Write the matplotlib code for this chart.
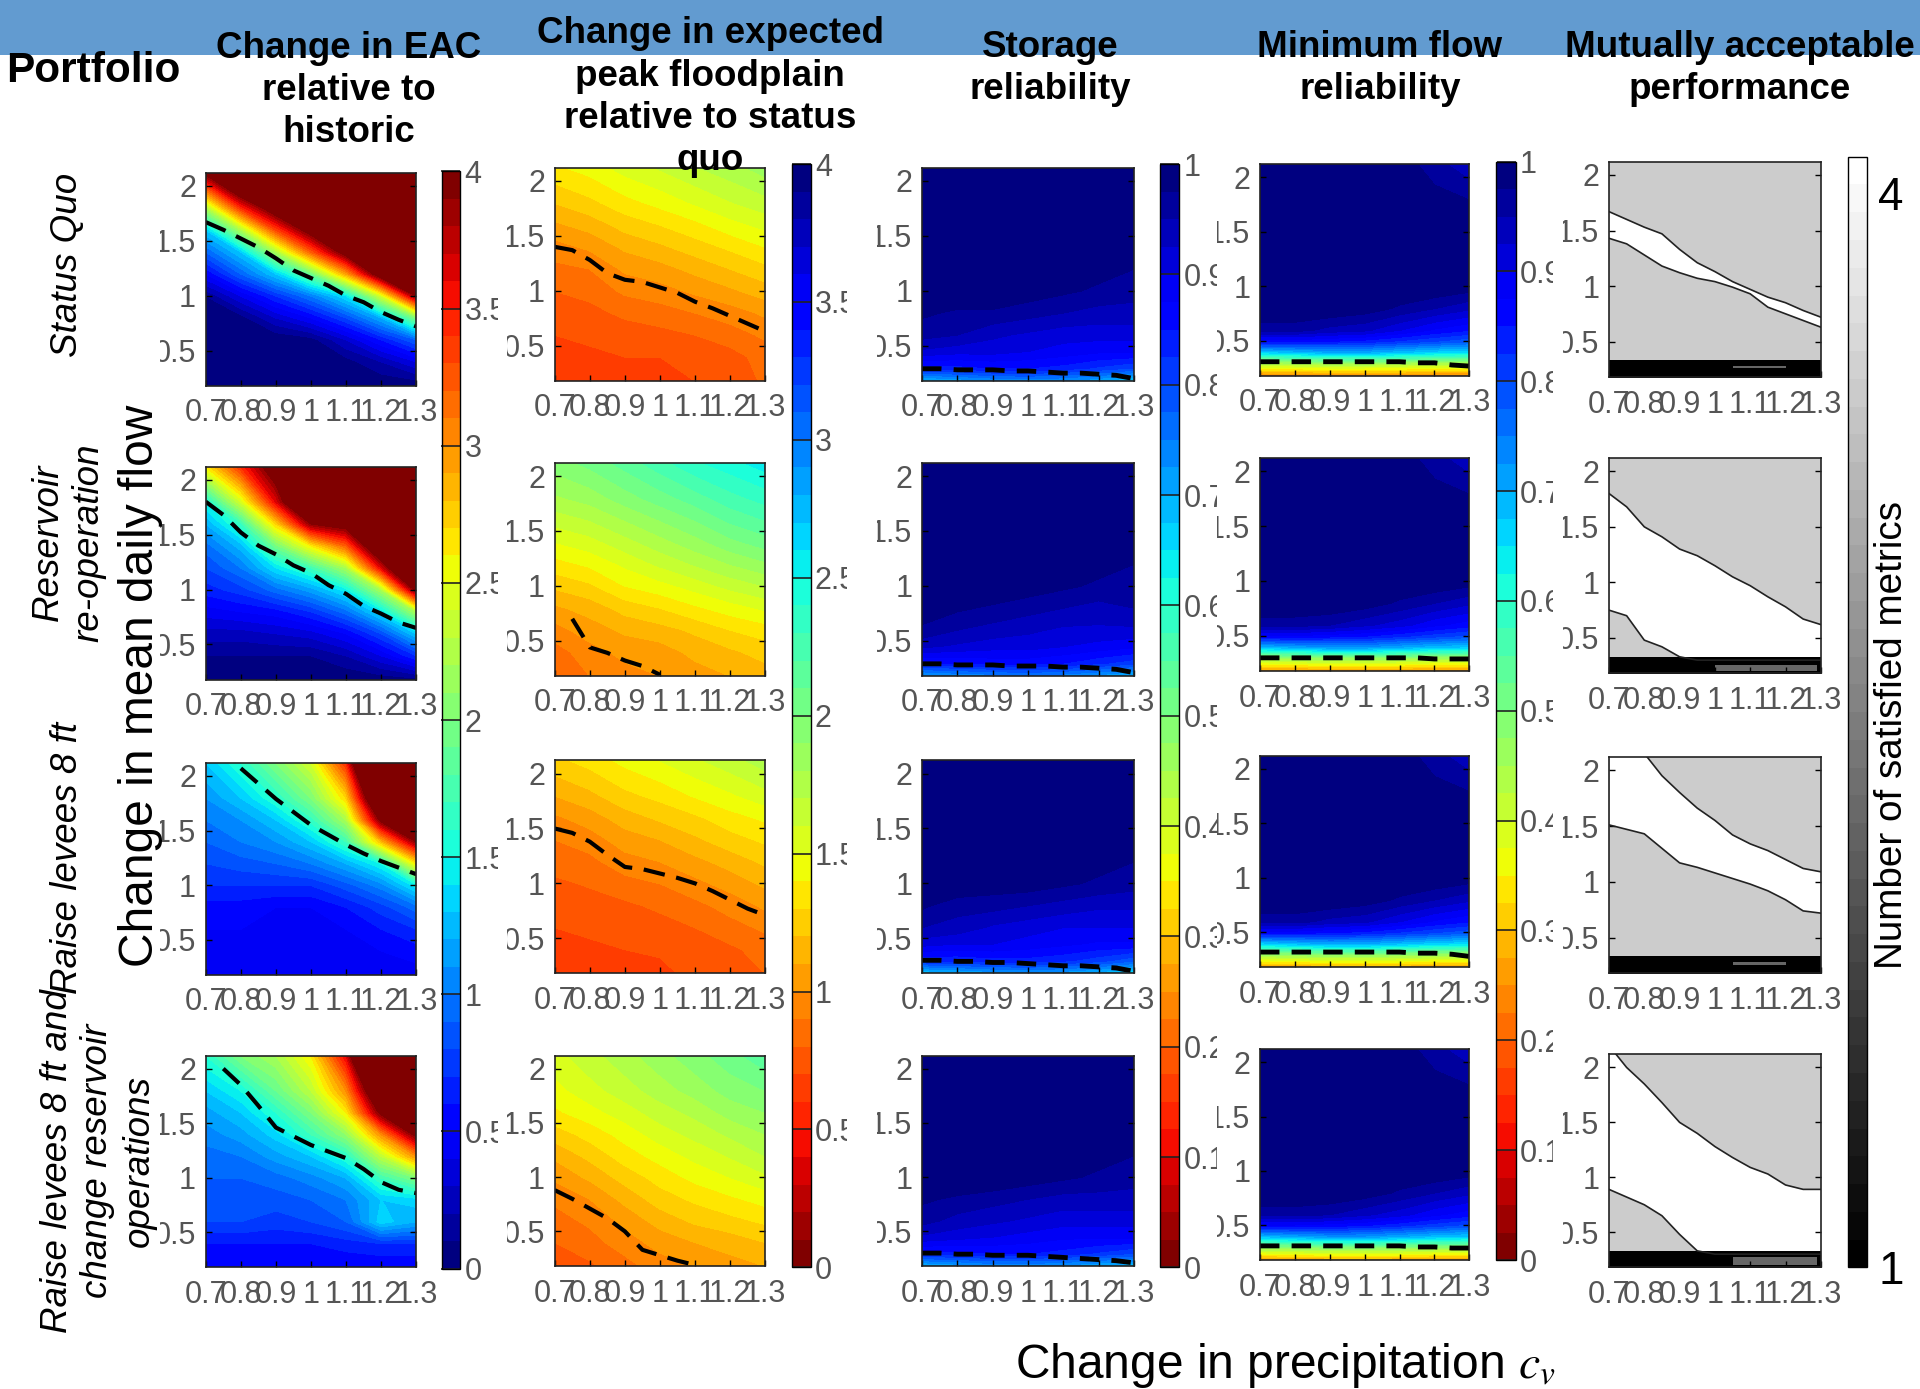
import numpy as np
from matplotlib import pyplot as plt
from matplotlib.cm import ScalarMappable
from matplotlib.colors import Normalize
from matplotlib.patches import Rectangle
from matplotlib.transforms import Bbox

plt.rcParams['font.family'] = ['Liberation Sans', 'DejaVu Sans']
plt.rcParams['mathtext.fontset'] = 'stix'

cv = [0.7, 0.8, 0.9, 1.0, 1.1, 1.2, 1.3]
cv_fine = [0.7, 0.75, 0.8, 0.85, 0.9, 0.95, 1.0, 1.05, 1.1, 1.15, 1.2, 1.25, 1.3]
flow_a = [0.18, 0.4, 0.6, 0.8, 1.0, 1.2, 1.4, 1.6, 1.8, 2.12]
flow_b = [0.18, 0.3, 0.45, 0.6, 0.8, 1.0, 1.4, 2.12]
flow_c = [0.18, 0.3, 0.4, 0.5, 0.6, 0.8, 1.0, 1.6, 2.12]
nan = float('nan')

# change in EAC
eac_1 = [[0, 0, 0, 0, 0, 0, 0],
         [0, 0, 0, 0, 0.05, 0.2, 0.4],
         [0, 0, 0, 0.05, 0.3, 0.6, 0.9],
         [0, 0.05, 0.3, 0.5, 0.8, 1.2, 2.0],
         [0.1, 0.4, 0.7, 1.0, 1.4, 2.4, 3.9],
         [0.5, 0.9, 1.3, 1.9, 2.9, 4.2, 5],
         [0.9, 1.3, 2.2, 3.2, 4.1, 5, 6],
         [1.3, 2.2, 3.3, 4.1, 5, 6, 7],
         [2.2, 3.4, 4.2, 5, 6, 7, 8],
         [4, 5, 6, 7, 8, 9, 10]]
eac_2 = [[0, 0, 0, 0, 0, 0.02, 0.05],
         [0.1, 0.1, 0.1, 0.1, 0.2, 0.4, 0.7],
         [0.25, 0.25, 0.3, 0.35, 0.5, 0.8, 1.3],
         [0.45, 0.5, 0.55, 0.7, 0.95, 1.4, 2.2],
         [0.65, 0.75, 0.95, 1.15, 1.45, 2.2, 4],
         [0.8, 1.0, 1.4, 1.7, 2.2, 3.6, 5],
         [0.95, 1.25, 1.95, 2.6, 3.2, 4.5, 6],
         [1.2, 1.65, 2.7, 3.9, 4.1, 5.5, 7],
         [1.5, 2.4, 3.6, 5, 5.5, 7, 8],
         [2.6, 3.4, 4.2, 6, 7, 8, 9]]
eac_3 = [[0.45, 0.45, 0.45, 0.45, 0.45, 0.45, 0.45],
         [0.45, 0.45, 0.45, 0.45, 0.45, 0.5, 0.55],
         [0.5, 0.5, 0.5, 0.5, 0.5, 0.6, 0.7],
         [0.55, 0.55, 0.5, 0.5, 0.6, 0.75, 0.95],
         [0.7, 0.7, 0.7, 0.7, 0.85, 1.05, 1.45],
         [0.8, 0.85, 0.9, 1.0, 1.2, 1.5, 2.6],
         [0.9, 1.0, 1.1, 1.3, 1.7, 2.8, 3.9],
         [1.0, 1.1, 1.3, 1.65, 2.2, 4, 5.5],
         [1.1, 1.3, 1.6, 2.0, 2.7, 4.8, 6],
         [1.3, 1.6, 2.0, 2.4, 3.4, 6, 7]]
eac_4 = [[0.5, 0.5, 0.5, 0.5, 0.5, 0.5, 0.5],
         [0.6, 0.6, 0.6, 0.6, 0.65, 0.7, 0.7],
         [0.8, 0.8, 0.75, 0.8, 0.9, 1.35, 1.2],
         [0.85, 0.85, 0.85, 0.9, 1.0, 1.3, 1.35],
         [0.9, 0.9, 0.95, 1.05, 1.2, 1.7, 2.0],
         [0.95, 1.0, 1.15, 1.3, 1.6, 2.3, 3.0],
         [1.05, 1.15, 1.35, 1.7, 2.1, 3.0, 4],
         [1.15, 1.3, 1.6, 2.0, 2.6, 4, 5],
         [1.3, 1.5, 1.9, 2.3, 3.0, 4.6, 6],
         [1.6, 2.0, 2.2, 2.6, 3.6, 6, 7]]

# change in expected peak floodplain
peak_1 = [[0.64, 0.64, 0.67, 0.67, 0.70, 0.72, 0.82],
          [0.66, 0.68, 0.70, 0.70, 0.72, 0.76, 0.84],
          [0.70, 0.72, 0.75, 0.77, 0.80, 0.85, 0.92],
          [0.74, 0.77, 0.82, 0.85, 0.90, 0.95, 1.02],
          [0.80, 0.83, 0.92, 0.96, 1.02, 1.08, 1.15],
          [0.87, 0.90, 1.02, 1.06, 1.13, 1.2, 1.27],
          [0.96, 1.02, 1.12, 1.18, 1.25, 1.32, 1.4],
          [1.08, 1.14, 1.24, 1.3, 1.37, 1.46, 1.53],
          [1.2, 1.27, 1.36, 1.43, 1.51, 1.59, 1.66],
          [1.38, 1.44, 1.54, 1.61, 1.69, 1.76, 1.84]]
peak_2 = [[0.8, 0.9, 0.96, 1.0, 1.05, 1.1, 1.15],
          [0.85, 0.96, 1.03, 1.05, 1.13, 1.18, 1.24],
          [0.96, 1.05, 1.12, 1.16, 1.22, 1.3, 1.35],
          [1.08, 1.14, 1.24, 1.3, 1.38, 1.45, 1.52],
          [1.22, 1.28, 1.4, 1.46, 1.54, 1.63, 1.7],
          [1.36, 1.42, 1.52, 1.62, 1.71, 1.8, 1.88],
          [1.5, 1.56, 1.66, 1.76, 1.86, 1.97, 2.05],
          [1.64, 1.7, 1.8, 1.9, 2.0, 2.12, 2.2],
          [1.78, 1.84, 1.95, 2.05, 2.15, 2.26, 2.34],
          [1.95, 2.03, 2.14, 2.26, 2.38, 2.46, 2.55]]
peak_3 = [[0.62, 0.64, 0.66, 0.68, 0.72, 0.74, 0.80],
          [0.66, 0.68, 0.70, 0.71, 0.75, 0.78, 0.84],
          [0.70, 0.72, 0.74, 0.76, 0.80, 0.86, 0.92],
          [0.74, 0.76, 0.78, 0.82, 0.87, 0.94, 1.02],
          [0.78, 0.81, 0.86, 0.90, 0.97, 1.04, 1.12],
          [0.84, 0.87, 0.96, 1.0, 1.07, 1.14, 1.22],
          [0.9, 0.95, 1.05, 1.1, 1.18, 1.26, 1.32],
          [0.98, 1.05, 1.15, 1.22, 1.28, 1.36, 1.42],
          [1.1, 1.17, 1.27, 1.33, 1.41, 1.48, 1.56],
          [1.27, 1.34, 1.43, 1.5, 1.58, 1.66, 1.75]]
peak_4 = [[0.72, 0.78, 0.86, 0.95, 1.0, 1.06, 1.1],
          [0.8, 0.86, 0.95, 1.04, 1.1, 1.14, 1.2],
          [0.86, 0.92, 1.03, 1.14, 1.22, 1.27, 1.32],
          [0.92, 1.0, 1.13, 1.25, 1.32, 1.38, 1.44],
          [1.02, 1.12, 1.24, 1.34, 1.43, 1.5, 1.58],
          [1.12, 1.23, 1.35, 1.44, 1.53, 1.61, 1.7],
          [1.25, 1.34, 1.44, 1.55, 1.63, 1.72, 1.8],
          [1.38, 1.46, 1.55, 1.65, 1.73, 1.84, 1.9],
          [1.46, 1.56, 1.65, 1.75, 1.84, 1.94, 2.0],
          [1.56, 1.66, 1.76, 1.86, 1.96, 2.06, 2.16]]

# storage reliability
stor_1 = [[0.68, 0.70, 0.72, 0.73, 0.72, 0.70, 0.66],
          [0.84, 0.84, 0.85, 0.85, 0.84, 0.82, 0.80],
          [0.92, 0.91, 0.91, 0.90, 0.89, 0.88, 0.88],
          [0.96, 0.95, 0.93, 0.92, 0.91, 0.91, 0.91],
          [0.98, 0.97, 0.97, 0.96, 0.95, 0.94, 0.94],
          [1, 1, 1, 0.99, 0.98, 0.97, 0.96],
          [1, 1, 1, 1, 1, 1, 0.99],
          [1, 1, 1, 1, 1, 1, 1]]
stor_2 = [[0.70, 0.72, 0.73, 0.74, 0.73, 0.71, 0.68],
          [0.85, 0.85, 0.86, 0.86, 0.85, 0.83, 0.81],
          [0.93, 0.92, 0.91, 0.91, 0.90, 0.89, 0.88],
          [0.97, 0.95, 0.94, 0.93, 0.92, 0.92, 0.92],
          [0.99, 0.98, 0.97, 0.96, 0.95, 0.94, 0.95],
          [1, 1, 1, 0.99, 0.98, 0.97, 0.96],
          [1, 1, 1, 1, 1, 1, 0.99],
          [1, 1, 1, 1, 1, 1, 1]]
stor_3 = [[0.66, 0.68, 0.70, 0.71, 0.70, 0.68, 0.64],
          [0.83, 0.83, 0.84, 0.84, 0.83, 0.81, 0.78],
          [0.91, 0.90, 0.90, 0.89, 0.88, 0.87, 0.87],
          [0.95, 0.94, 0.92, 0.91, 0.90, 0.90, 0.90],
          [0.98, 0.96, 0.96, 0.95, 0.94, 0.93, 0.93],
          [1, 1, 0.99, 0.99, 0.98, 0.97, 0.96],
          [1, 1, 1, 1, 1, 1, 0.99],
          [1, 1, 1, 1, 1, 1, 1]]
stor_4 = [[0.68, 0.70, 0.72, 0.72, 0.71, 0.69, 0.67],
          [0.84, 0.84, 0.85, 0.85, 0.84, 0.82, 0.80],
          [0.92, 0.91, 0.90, 0.89, 0.88, 0.88, 0.88],
          [0.96, 0.94, 0.93, 0.92, 0.91, 0.91, 0.91],
          [0.98, 0.97, 0.96, 0.95, 0.94, 0.94, 0.94],
          [1, 1, 1, 0.99, 0.98, 0.97, 0.96],
          [1, 1, 1, 1, 1, 1, 0.99],
          [1, 1, 1, 1, 1, 1, 1]]

# minimum flow reliability
minf_1 = [[0.22, 0.22, 0.23, 0.23, 0.23, 0.22, 0.22],
          [0.44, 0.45, 0.46, 0.46, 0.45, 0.44, 0.44],
          [0.66, 0.68, 0.70, 0.70, 0.68, 0.66, 0.65],
          [0.86, 0.86, 0.85, 0.84, 0.82, 0.80, 0.78],
          [0.96, 0.96, 0.94, 0.93, 0.90, 0.87, 0.85],
          [1, 1, 1, 0.99, 0.97, 0.95, 0.93],
          [1, 1, 1, 1, 1, 1, 0.99],
          [1, 1, 1, 1, 1, 1, 1],
          [1, 1, 1, 1, 0.99, 0.96, 0.93]]
minf_2 = [[0.24, 0.24, 0.25, 0.25, 0.25, 0.24, 0.24],
          [0.45, 0.46, 0.47, 0.47, 0.46, 0.45, 0.45],
          [0.68, 0.70, 0.72, 0.72, 0.70, 0.68, 0.67],
          [0.87, 0.87, 0.86, 0.85, 0.83, 0.81, 0.79],
          [0.96, 0.96, 0.95, 0.93, 0.91, 0.88, 0.86],
          [1, 1, 1, 0.99, 0.97, 0.95, 0.93],
          [1, 1, 1, 1, 1, 1, 0.99],
          [1, 1, 1, 1, 1, 1, 1],
          [1, 1, 1, 0.98, 0.99, 0.96, 0.93]]
minf_3 = [[0.25, 0.25, 0.26, 0.26, 0.26, 0.25, 0.25],
          [0.46, 0.47, 0.48, 0.48, 0.47, 0.46, 0.45],
          [0.66, 0.68, 0.70, 0.70, 0.68, 0.66, 0.65],
          [0.86, 0.86, 0.85, 0.84, 0.82, 0.80, 0.78],
          [0.96, 0.96, 0.94, 0.93, 0.90, 0.87, 0.85],
          [1, 1, 1, 0.99, 0.97, 0.95, 0.93],
          [1, 1, 1, 1, 1, 1, 0.99],
          [1, 1, 1, 1, 1, 1, 1],
          [1, 1, 1, 1, 0.99, 0.96, 0.93]]
minf_4 = [[0.25, 0.25, 0.26, 0.26, 0.26, 0.25, 0.25],
          [0.47, 0.48, 0.49, 0.49, 0.48, 0.47, 0.47],
          [0.68, 0.70, 0.72, 0.72, 0.70, 0.68, 0.67],
          [0.87, 0.87, 0.86, 0.85, 0.83, 0.81, 0.79],
          [0.96, 0.96, 0.95, 0.93, 0.91, 0.88, 0.86],
          [1, 1, 1, 0.99, 0.97, 0.95, 0.93],
          [1, 1, 1, 1, 1, 1, 0.99],
          [1, 1, 1, 1, 1, 1, 1],
          [1, 1, 1, 0.98, 0.99, 0.96, 0.93]]

# dashed threshold lines
dash_eac = [[1.67, 1.60, 1.52, 1.44, 1.34, 1.23, 1.16, 1.09, 1.00, 0.94, 0.85, 0.78, 0.72],
            [1.80, 1.68, 1.52, 1.40, 1.32, 1.22, 1.15, 1.04, 0.96, 0.85, 0.78, 0.70, 0.65],
            [nan, nan, 2.07, 1.93, 1.79, 1.67, 1.55, 1.46, 1.37, 1.29, 1.22, 1.16, 1.10],
            [nan, 2.0, 1.85, 1.66, 1.46, 1.38, 1.30, 1.24, 1.18, 1.08, 0.96, 0.89, 0.86]]
dash_peak = [[1.40, 1.37, 1.28, 1.16, 1.10, 1.08, 1.03, 0.98, 0.90, 0.84, 0.77, 0.70, 0.63],
             [nan, 0.70, 0.44, 0.39, 0.32, 0.27, 0.19, nan, nan, nan, nan, nan, nan],
             [1.50, 1.46, 1.38, 1.26, 1.15, 1.13, 1.09, 1.05, 1.00, 0.93, 0.85, 0.77, 0.71],
             [0.88, 0.80, 0.71, 0.62, 0.50, 0.33, 0.28, 0.23, 0.19, nan, nan, nan, nan]]
dash_stor = [[0.29, 0.29, 0.28, 0.28, 0.28, 0.27, 0.27, 0.26, 0.25, 0.25, 0.24, 0.23, 0.20],
             [0.29, 0.29, 0.28, 0.28, 0.28, 0.27, 0.27, 0.27, 0.26, 0.26, 0.25, 0.24, 0.21],
             [0.30, 0.30, 0.29, 0.29, 0.28, 0.28, 0.27, 0.26, 0.25, 0.25, 0.24, 0.23, 0.20],
             [0.30, 0.30, 0.29, 0.29, 0.28, 0.28, 0.28, 0.27, 0.26, 0.25, 0.24, 0.23, 0.21]]
dash_minf = [[0.31, 0.31, 0.31, 0.31, 0.31, 0.31, 0.31, 0.31, 0.31, 0.30, 0.30, 0.28, 0.27],
             [0.30, 0.30, 0.30, 0.30, 0.30, 0.30, 0.30, 0.30, 0.30, 0.30, 0.29, 0.29, 0.29],
             [0.32, 0.32, 0.32, 0.32, 0.32, 0.32, 0.32, 0.32, 0.32, 0.31, 0.31, 0.30, 0.28],
             [0.31, 0.31, 0.31, 0.31, 0.31, 0.31, 0.31, 0.31, 0.31, 0.30, 0.30, 0.29, 0.29]]

# mutually acceptable performance: white region bounds
upper_lim = [[1.67, 1.60, 1.53, 1.47, 1.33, 1.21, 1.13, 1.04, 0.97, 0.90, 0.85, 0.78, 0.72],
             [1.80, 1.68, 1.50, 1.41, 1.30, 1.24, 1.15, 1.05, 0.97, 0.87, 0.78, 0.67, 0.62],
             [2.5, 2.3, 2.15, 1.95, 1.8, 1.66, 1.55, 1.42, 1.34, 1.28, 1.2, 1.12, 1.09],
             [2.2, 2.0, 1.85, 1.68, 1.50, 1.40, 1.28, 1.18, 1.09, 1.03, 0.93, 0.89, 0.89]]
lower_lim = [[1.43, 1.38, 1.28, 1.18, 1.12, 1.07, 1.04, 0.99, 0.93, 0.81, 0.75, 0.69, 0.63],
             [0.75, 0.70, 0.48, 0.42, 0.33, 0.3, 0.3, 0.3, 0.3, 0.3, 0.3, 0.3, 0.3],
             [1.51, 1.47, 1.43, 1.30, 1.17, 1.13, 1.08, 1.03, 0.98, 0.92, 0.84, 0.74, 0.72],
             [0.89, 0.82, 0.75, 0.65, 0.48, 0.33, 0.3, 0.3, 0.3, 0.3, 0.3, 0.3, 0.3]]
band_top = [0.33, 0.33, 0.34, 0.33]
sliver_x = [[1.05, 1.2], [1.0, 1.29], [1.05, 1.2], [1.05, 1.29]]
sliver_y = [[0.26, 0.28], [0.2, 0.26], [0.26, 0.28], [0.2, 0.27]]

row_labels = ['Status Quo', 'Reservoir\nre-operation', 'Raise levees 8 ft',
              'Raise levees 8 ft and\nchange reservoir\noperations']
col_titles = ['Change in EAC\nrelative to\nhistoric',
              'Change in expected\npeak floodplain\nrelative to status\nquo',
              'Storage\nreliability', 'Minimum flow\nreliability',
              'Mutually acceptable\nperformance']
x_ticks = [0.7, 0.8, 0.9, 1.0, 1.1, 1.2, 1.3]
x_labels = ['0.7', '0.8', '0.9', '1', '1.1', '1.2', '1.3']
y_ticks = [0.5, 1, 1.5, 2]
y_labels = ['0.5', '1', '1.5', '2']
ticks_4 = [0, 0.5, 1, 1.5, 2, 2.5, 3, 3.5, 4]
labels_4 = ['0', '0.5', '1', '1.5', '2', '2.5', '3', '3.5', '4']
ticks_1 = [0, 0.1, 0.2, 0.3, 0.4, 0.5, 0.6, 0.7, 0.8, 0.9, 1]
labels_1 = ['0', '0.1', '0.2', '0.3', '0.4', '0.5', '0.6', '0.7', '0.8', '0.9', '1']

# layout, pixels of the full picture
W, H = 1920, 1389
k = W / 1568
col_x = [(168, 340), (453, 625), (753, 926), (1029, 1200), (1314, 1487)]
col_y = [[(141, 315), (381, 555), (623, 796), (862, 1035)],
         [(137, 311), (378, 552), (621, 795), (862, 1034)],
         [(137, 311), (378, 552), (621, 795), (862, 1034)],
         [(134, 307), (374, 548), (617, 790), (857, 1029)],
         [(132, 308), (374, 550), (618, 795), (861, 1035)]]
cbar_x = [(361, 376), (647, 662), (947, 963), (1222, 1238), (1509, 1525)]
cbar_y = [(140, 1036), (134, 1035), (134, 1035), (132, 1029), (128, 1035)]
clip_left = [160, 507, 877, 1217, 1563]
clip_right = [498, 847, 1217, 1553]

GREY = '#555555'
fig = plt.figure(figsize=(19.2, 13.89), dpi=100)


def add_box(x, y):
    return fig.add_axes([x[0] * k / W, 1 - y[1] * k / H,
                         (x[1] - x[0]) * k / W, (y[1] - y[0]) * k / H])


def fig_text(x, y, s, **kw):
    kw.setdefault('ha', 'center')
    kw.setdefault('va', 'center')
    return fig.text(x * k / W, 1 - y * k / H, s, **kw)


def style_panel(ax, col):
    ax.set_xlim(0.7, 1.3)
    ax.set_ylim(0.18, 2.12)
    ax.set_xticks(x_ticks, x_labels)
    ax.set_yticks(y_ticks, y_labels)
    ax.tick_params(direction='in', length=4, width=1, top=False, right=True,
                   labelsize=22, labelcolor=GREY, color='k')
    ax.tick_params(axis='x', pad=9)
    ax.tick_params(axis='y', pad=7)
    for s in ax.spines.values():
        s.set_linewidth(1.2)
        s.set_color('#222222')
    # the y labels are cut on the left in the original
    box = Bbox([[clip_left[col], 0], [W, H]])
    for t in ax.get_yticklabels():
        t.set_clip_box(box)
        t.set_clip_on(True)


# blue banner behind the titles
fig.add_artist(Rectangle((0, 1 - 55 / H), 1, 55 / H, transform=fig.transFigure,
                         facecolor='#629bd0', edgecolor='none', zorder=-5))

fields = [(flow_a, [eac_1, eac_2, eac_3, eac_4], dash_eac, 4, 'jet'),
          (flow_a, [peak_1, peak_2, peak_3, peak_4], dash_peak, 4, 'jet_r'),
          (flow_b, [stor_1, stor_2, stor_3, stor_4], dash_stor, 1, 'jet_r'),
          (flow_c, [minf_1, minf_2, minf_3, minf_4], dash_minf, 1, 'jet_r')]

for col, (flow, grids, dashes, vmax, cmap_name) in enumerate(fields):
    cmap = plt.get_cmap(cmap_name, 40)
    levels = np.linspace(0, vmax, 41)
    for row in range(4):
        ax = add_box(col_x[col], col_y[col][row])
        cs = ax.contourf(cv, flow, np.array(grids[row]), levels=levels, cmap=cmap,
                         vmin=0, vmax=vmax, extend='both')
        cs.set_edgecolor('face')  # no light seams between the bands
        cs.set_linewidth(0.5)
        if col < 2:
            ax.plot(cv_fine, dashes[row], color='k', lw=3, ls=(0, (5.2, 2.8)))
        else:
            ax.plot(cv_fine, dashes[row], color='k', lw=3.5, ls=(0, (4, 2.5)))
        style_panel(ax, col)

    cax = add_box(cbar_x[col], cbar_y[col])
    cb = fig.colorbar(ScalarMappable(Normalize(0, vmax), cmap), cax=cax)
    cb.set_ticks(ticks_4 if vmax == 4 else ticks_1,
                 labels=labels_4 if vmax == 4 else labels_1)
    cax.tick_params(direction='in', length=14, width=1.2, color='#222222',
                    labelsize=22, labelcolor=GREY, pad=3)
    cb.outline.set_linewidth(1)
    box = Bbox([[0, 0], [clip_right[col], H]])
    for t in cax.get_yticklabels():
        t.set_clip_box(box)
        t.set_clip_on(True)

# last column, areas between bounds
for row in range(4):
    ax = add_box(col_x[4], col_y[4][row])
    ax.set_facecolor('#cccccc')
    ax.fill_between(cv_fine, lower_lim[row], upper_lim[row], color='white', lw=0)
    ax.plot(cv_fine, upper_lim[row], color='#222222', lw=1.2)
    ax.plot(cv_fine, lower_lim[row], color='#222222', lw=1.2)
    ax.fill_between(cv_fine, 0.1, band_top[row], color='black', lw=0)
    ax.fill_between(sliver_x[row], sliver_y[row][0], sliver_y[row][1], color='#666666', lw=0)
    style_panel(ax, 4)

cax = add_box(cbar_x[4], cbar_y[4])
cb = fig.colorbar(ScalarMappable(Normalize(1, 4.1), plt.get_cmap('gray', 40)), cax=cax)
cb.set_ticks([1, 4], labels=['1', '4'])
cax.tick_params(length=0, labelsize=33, labelcolor='k', pad=8)
cb.outline.set_linewidth(1)
fig_text(1545, 600, 'Number of satisfied metrics', rotation=90, fontsize=27.8)

# titles
fig_text(76, 58, 'Portfolio', fontsize=30.5, fontweight='bold')
title_x = [285, 580, 858, 1127, 1421]
title_y = [74, 79.5, 56, 56, 56]
for tx, ty, s in zip(title_x, title_y, col_titles):
    fig_text(tx, ty, s, fontsize=26.5, fontweight='bold', linespacing=1.27)

# row labels
fig_text(55, 216, row_labels[0], rotation=90, fontsize=26.5, style='italic')
fig_text(56, 443, row_labels[1], rotation=90, fontsize=26.5, style='italic', linespacing=1.22)
fig_text(55, 701, row_labels[2], rotation=90, fontsize=26.5, style='italic')
fig_text(80, 948, row_labels[3], rotation=90, fontsize=26.5, style='italic', linespacing=1.22)

fig_text(115, 560, 'Change in mean daily flow', rotation=90, fontsize=34.5)
fig_text(1050, 1115, r'Change in precipitation $c_v$', fontsize=34.5)

plt.savefig('out.png', dpi=100)
